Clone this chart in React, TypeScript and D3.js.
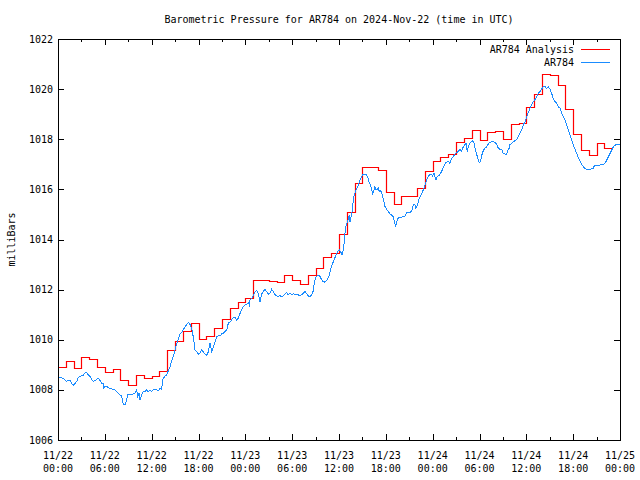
import React from "react";
import * as d3 from "d3";

const TITLE = "Barometric Pressure for AR784 on 2024-Nov-22 (time in UTC)";
const Y_LABEL = "milliBars";
const SERIES_NAMES = ["AR784 Analysis", "AR784"];
const SERIES_COLORS = ["#ff0000", "#1a8cff"];
const START_UTC = Date.UTC(2024, 10, 22, 0, 0);
const SPAN_HOURS = 72;
const Y_DOMAIN = [1006, 1022];
const yTickValues = [1006, 1008, 1010, 1012, 1014, 1016, 1018, 1020, 1022];

// Hourly analysis values, starting 11/22 00:00 UTC
const analysisValues = [
  1008.92, 1009.15, 1008.86, 1009.3, 1009.22, 1008.91, 1008.7, 1008.85, 1008.38, 1008.18,
  1008.59, 1008.46, 1008.55, 1008.75, 1009.58, 1009.95, 1010.35, 1010.68, 1010.02, 1010.15,
  1010.48, 1010.82, 1011.25, 1011.52, 1011.65, 1012.38, 1012.38, 1012.35, 1012.3, 1012.58,
  1012.4, 1012.23, 1012.58, 1012.88, 1013.31, 1013.47, 1014.22, 1015.11, 1016.24, 1016.88,
  1016.88, 1016.77, 1015.89, 1015.4, 1015.75, 1015.75, 1016.04, 1016.73, 1017.13, 1017.31,
  1017.41, 1017.88, 1018.05, 1018.37, 1017.97, 1018.29, 1018.33, 1018.0, 1018.61, 1018.66,
  1019.28, 1019.81, 1020.6, 1020.55, 1020.17, 1019.2, 1018.21, 1017.57, 1017.37, 1017.84,
  1017.64, 1017.64,
];

// Observation times (hours after 11/22 00:00 UTC)
const obsHours = [
  0, 0.26, 0.68, 0.9, 1.11, 1.32, 1.54, 1.75, 1.96, 2.18, 2.39, 2.6, 2.95, 3.25, 3.54, 3.76, 3.89,
  4.1, 4.31, 4.53, 4.74, 4.95, 5.17, 5.38, 5.59, 5.81, 5.89, 6.02, 6.23, 6.45, 6.66, 6.88, 7.09,
  7.3, 7.52, 7.73, 7.94, 8.16, 8.37, 8.58, 8.71, 8.93, 9.22, 9.44, 9.65, 9.86, 10.08, 10.21, 10.38,
  10.51, 10.72, 10.93, 11.15, 11.36, 11.57, 11.79, 12.0, 12.21, 12.43, 12.64, 12.85, 13.07, 13.28,
  13.37, 13.49, 13.71, 13.92, 14.13, 14.35, 14.56, 14.78, 14.99, 15.2, 15.42, 15.63, 15.85, 16.06,
  16.27, 16.49, 16.7, 16.91, 17.13, 17.34, 17.56, 17.77, 17.98, 18.19, 18.41, 18.62, 18.83, 19.05,
  19.26, 19.47, 19.6, 19.69, 19.9, 20.11, 20.33, 20.54, 20.75, 20.97, 21.18, 21.39, 21.61, 21.82,
  22.03, 22.25, 22.46, 22.68, 22.89, 23.1, 23.32, 23.53, 23.74, 23.96, 24.17, 24.38, 24.51, 24.6,
  24.81, 25.02, 25.24, 25.45, 25.66, 25.88, 26.09, 26.3, 26.52, 26.73, 26.94, 27.16, 27.37, 27.58,
  27.8, 28.01, 28.22, 28.44, 28.65, 28.86, 29.08, 29.29, 29.5, 29.72, 29.93, 30.14, 30.36, 30.57,
  30.78, 31.0, 31.21, 31.42, 31.64, 31.85, 32.06, 32.28, 32.49, 32.7, 32.84, 33.05, 33.27, 33.48,
  33.69, 33.91, 34.12, 34.33, 34.55, 34.76, 34.97, 35.19, 35.4, 35.61, 35.83, 36.04, 36.21, 36.33,
  36.46, 36.55, 36.68, 36.77, 36.89, 36.98, 37.11, 37.2, 37.33, 37.41, 37.54, 37.71, 37.83, 37.96,
  38.13, 38.26, 38.39, 38.56, 38.69, 38.9, 39.12, 39.33, 39.54, 39.76, 39.88, 40.06, 40.18, 40.31,
  40.48, 40.61, 40.74, 40.91, 41.04, 41.17, 41.34, 41.47, 41.6, 41.77, 41.9, 42.11, 42.32, 42.54,
  42.75, 42.96, 43.09, 43.26, 43.39, 43.51, 43.69, 43.81, 44.03, 44.24, 44.45, 44.67, 44.88, 45.09,
  45.31, 45.52, 45.73, 45.86, 46.03, 46.29, 46.5, 46.72, 47.01, 47.23, 47.44, 47.57, 47.87, 48.0,
  48.17, 48.42, 48.6, 48.85, 49.15, 49.36, 49.71, 50.0, 50.22, 50.43, 50.65, 50.86, 51.07, 51.29,
  51.5, 51.71, 51.93, 52.27, 52.44, 52.57, 52.78, 53.12, 53.29, 53.42, 53.63, 53.85, 53.97, 54.15,
  54.27, 54.49, 54.7, 54.91, 55.13, 55.34, 55.55, 55.77, 55.98, 56.2, 56.41, 56.62, 56.84, 57.05,
  57.26, 57.48, 57.69, 57.82, 57.9, 58.12, 58.33, 58.55, 58.76, 58.97, 59.19, 59.4, 59.61, 59.83,
  60.04, 60.25, 60.47, 60.68, 60.89, 61.11, 61.32, 61.53, 61.75, 61.96, 62.17, 62.39, 62.6, 62.81,
  63.03, 63.24, 63.45, 63.67, 63.88, 64.09, 64.31, 64.52, 64.73, 64.95, 65.16, 65.37, 65.59, 65.8,
  66.01, 66.23, 66.44, 66.65, 66.87, 67.08, 67.29, 67.51, 67.72, 68.15, 68.57, 68.7, 69.0, 69.43,
  69.64, 69.94, 70.2, 70.41, 70.62, 70.84, 71.05, 71.27, 71.48, 72.0,
];

const obsValues = [
  1008.5, 1008.5, 1008.46, 1008.39, 1008.33, 1008.39, 1008.37, 1008.26, 1008.19, 1008.26, 1008.33,
  1008.5, 1008.55, 1008.59, 1008.7, 1008.66, 1008.59, 1008.53, 1008.42, 1008.33, 1008.37, 1008.42,
  1008.46, 1008.37, 1008.26, 1008.26, 1008.06, 1008.13, 1008.15, 1008.09, 1008.06, 1008.04, 1008.0,
  1008.0, 1007.93, 1007.86, 1007.8, 1007.76, 1007.4, 1007.4, 1007.53, 1007.8, 1007.84, 1007.8,
  1007.84, 1007.86, 1008.02, 1007.73, 1007.86, 1007.6, 1007.8, 1007.93, 1007.93, 1008.0, 1007.93,
  1007.97, 1007.93, 1008.0, 1008.02, 1008.0, 1007.97, 1008.06, 1008.0, 1008.33, 1008.46, 1008.55,
  1008.59, 1008.76, 1008.92, 1009.17, 1009.34, 1009.6, 1009.83, 1010.04, 1010.22, 1010.29, 1010.4,
  1010.52, 1010.61, 1010.69, 1010.61, 1010.45, 1010.1, 1009.59, 1009.52, 1009.43, 1009.48, 1009.59,
  1009.52, 1009.43, 1009.39, 1009.52, 1009.88, 1009.66, 1009.52, 1009.72, 1009.92, 1010.12, 1010.15,
  1010.15, 1010.23, 1010.26, 1010.32, 1010.39, 1010.66, 1010.7, 1010.79, 1010.9, 1010.9, 1010.79,
  1010.86, 1011.05, 1011.21, 1011.32, 1011.39, 1011.42, 1011.48, 1011.39, 1011.59, 1011.65, 1011.77,
  1011.9, 1011.97, 1011.84, 1011.5, 1011.82, 1011.92, 1012.02, 1011.92, 1011.82, 1011.85, 1012.01,
  1011.92, 1011.81, 1011.75, 1011.72, 1011.76, 1011.72, 1011.75, 1011.83, 1011.88, 1011.79, 1011.85,
  1011.81, 1011.83, 1011.81, 1011.81, 1011.79, 1011.76, 1011.79, 1011.85, 1011.92, 1011.85, 1011.75,
  1011.72, 1011.79, 1011.95, 1012.3, 1012.5, 1012.57, 1012.57, 1012.45, 1012.32, 1012.3, 1012.33,
  1012.43, 1012.58, 1012.85, 1013.05, 1013.2, 1013.39, 1013.52, 1013.59, 1013.52, 1013.42, 1013.39,
  1013.65, 1013.91, 1014.24, 1014.51, 1014.64, 1014.71, 1014.84, 1014.97, 1014.71, 1014.91, 1015.18,
  1015.58, 1015.78, 1015.91, 1016.04, 1016.11, 1016.24, 1016.37, 1016.51, 1016.61, 1016.61, 1016.57,
  1016.44, 1016.24, 1016.17, 1015.97, 1015.84, 1015.97, 1016.11, 1016.0, 1016.0, 1016.04, 1015.91,
  1015.95, 1015.84, 1015.71, 1015.51, 1015.31, 1015.2, 1015.11, 1015.02, 1014.97, 1014.91, 1014.71,
  1014.51, 1014.71, 1014.81, 1014.89, 1014.89, 1014.89, 1014.91, 1014.94, 1015.08, 1015.08, 1015.09,
  1015.11, 1015.4, 1015.4, 1015.24, 1015.38, 1015.64, 1015.78, 1015.91, 1016.18, 1016.38, 1016.51,
  1016.57, 1016.6, 1016.53, 1016.64, 1016.38, 1016.51, 1016.57, 1016.71, 1016.88, 1017.07, 1017.11,
  1017.04, 1017.24, 1017.31, 1017.41, 1017.47, 1017.51, 1017.6, 1017.51, 1017.71, 1017.84, 1017.51,
  1017.71, 1017.84, 1017.94, 1017.87, 1017.64, 1017.41, 1017.17, 1017.07, 1017.11, 1017.34, 1017.55,
  1017.64, 1017.7, 1017.81, 1017.88, 1017.9, 1017.91, 1017.87, 1017.8, 1017.64, 1017.6, 1017.59,
  1017.44, 1017.41, 1017.4, 1017.59, 1017.64, 1017.78, 1017.84, 1017.91, 1017.94, 1018.0, 1018.1,
  1018.24, 1018.37, 1018.57, 1018.7, 1018.9, 1019.06, 1019.24, 1019.37, 1019.5, 1019.59, 1019.7,
  1019.83, 1019.9, 1020.01, 1020.1, 1020.1, 1020.03, 1020.1, 1020.0, 1019.83, 1019.63, 1019.5,
  1019.44, 1019.3, 1019.24, 1019.06, 1018.9, 1018.77, 1018.57, 1018.37, 1018.17, 1017.97, 1017.78,
  1017.6, 1017.44, 1017.28, 1017.15, 1017.01, 1016.91, 1016.84, 1016.8, 1016.8, 1016.84, 1016.93,
  1016.97, 1016.97, 1017.01, 1017.01, 1017.11, 1017.24, 1017.37, 1017.51, 1017.64, 1017.74, 1017.78,
  1017.81,
];

const W = 640;
const H = 480;
const PL = 58;
const PR = 620;
const PT = 39;
const PB = 440;
const FONT = "'DejaVu Sans Mono', 'Liberation Mono', monospace";

const toDate = (h: number) => new Date(START_UTC + h * 3600 * 1000);
const snap = (v: number) => Math.round(v) + 0.5;

export default function App() {
  const x = d3.scaleUtc().domain([toDate(0), toDate(SPAN_HOURS)]).range([PL, PR]);
  const y = d3.scaleLinear().domain(Y_DOMAIN).range([PB, PT]);

  const stop = new Date(toDate(SPAN_HOURS).getTime() + 1);
  const majorTicks = d3.utcHour.every(6)!.range(toDate(0), stop);
  const minorTicks = d3.utcHour
    .every(3)!
    .range(toDate(0), stop)
    .filter((d) => d.getUTCHours() % 6 !== 0);
  const fmtDay = d3.utcFormat("%m/%d");
  const fmtTime = d3.utcFormat("%H:%M");

  const analysisData = analysisValues.map((v, i) => ({ t: toDate(i), v }));
  const obsData = obsHours.map((h, i) => ({ t: toDate(h), v: obsValues[i] }));

  const stepLine = d3
    .line<{ t: Date; v: number }>()
    .x((d) => snap(x(d.t)))
    .y((d) => snap(y(d.v)))
    .curve(d3.curveStepAfter);
  const obsLine = d3
    .line<{ t: Date; v: number }>()
    .x((d) => x(d.t))
    .y((d) => y(d.v));

  const majorLen = 6;
  const minorLen = 3;

  return (
    <svg
      width={W}
      height={H}
      style={{ position: "absolute", left: 0, top: 0, background: "#fff" }}
      fontFamily={FONT}
      fontSize={10}
    >
      <rect x={0} y={0} width={W} height={H} fill="#fff" />
      <text x={(PL + PR) / 2} y={19} dy="0.35em" textAnchor="middle" fill="#000">
        {TITLE}
      </text>
      <text
        transform={`translate(11,${(PT + PB) / 2}) rotate(-90)`}
        dy="0.35em"
        textAnchor="middle"
        fill="#000"
      >
        {Y_LABEL}
      </text>

      <g shapeRendering="crispEdges" stroke="#000" strokeWidth={1}>
        {yTickValues.map((v) => (
          <g key={"yt" + v}>
            <line x1={PL} x2={PL + majorLen} y1={snap(y(v))} y2={snap(y(v))} />
            <line x1={PR - majorLen} x2={PR} y1={snap(y(v))} y2={snap(y(v))} />
          </g>
        ))}
        {majorTicks.map((d) => {
          const xx = snap(x(d));
          return (
            <g key={"xt" + d.getTime()}>
              <line x1={xx} x2={xx} y1={PB} y2={PB - majorLen} />
              <line x1={xx} x2={xx} y1={PT} y2={PT + majorLen} />
            </g>
          );
        })}
        {minorTicks.map((d) => {
          const xx = snap(x(d));
          return (
            <g key={"mt" + d.getTime()}>
              <line x1={xx} x2={xx} y1={PB} y2={PB - minorLen} />
              <line x1={xx} x2={xx} y1={PT} y2={PT + minorLen} />
            </g>
          );
        })}
      </g>

      {yTickValues.map((v) => (
        <text key={"yl" + v} x={PL - 5} y={y(v)} dy="0.35em" textAnchor="end" fill="#000">
          {v}
        </text>
      ))}
      {majorTicks.map((d) => (
        <g key={"xl" + d.getTime()}>
          <text x={x(d)} y={455} dy="0.35em" textAnchor="middle" fill="#000">
            {fmtDay(d)}
          </text>
          <text x={x(d)} y={468} dy="0.35em" textAnchor="middle" fill="#000">
            {fmtTime(d)}
          </text>
        </g>
      ))}

      <g fill="none">
        <path d={stepLine(analysisData) || ""} stroke={SERIES_COLORS[0]} strokeWidth={1.2} />
        <path d={obsLine(obsData) || ""} stroke={SERIES_COLORS[1]} strokeWidth={1} shapeRendering="crispEdges" />
      </g>

      {SERIES_NAMES.map((name, i) => (
        <g key={name}>
          <text x={574} y={49 + i * 13} dy="0.35em" textAnchor="end" fill="#000">
            {name}
          </text>
          <line
            x1={581}
            x2={610}
            y1={49.5 + i * 13}
            y2={49.5 + i * 13}
            stroke={SERIES_COLORS[i]}
            strokeWidth={1}
            shapeRendering="crispEdges"
          />
        </g>
      ))}

      <rect
        x={PL + 0.5}
        y={PT + 0.5}
        width={PR - PL}
        height={PB - PT}
        fill="none"
        stroke="#000"
        strokeWidth={1}
        shapeRendering="crispEdges"
      />
    </svg>
  );
}
